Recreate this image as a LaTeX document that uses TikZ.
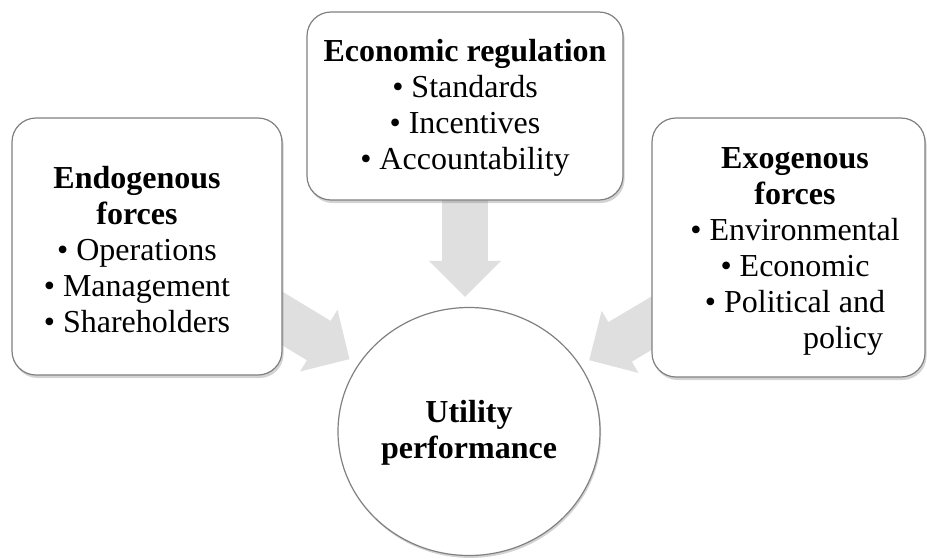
\documentclass[tikz,border=0pt]{standalone}
\usepackage{fontspec}
\setmainfont{Liberation Serif}
\usetikzlibrary{shapes.geometric,shadows,backgrounds,arrows.meta}

\begin{document}
\begin{tikzpicture}[x=0.5pt,y=-0.5pt,
  box/.style={draw=gray, line width=0.6pt, fill=white, rounded corners=12pt,
    drop shadow={shadow xshift=0.8pt,shadow yshift=-1.5pt,opacity=0.35}},
  disc/.style={ellipse, draw=gray, line width=0.6pt, fill=white,
    drop shadow={shadow xshift=0.6pt,shadow yshift=-1.2pt,opacity=0.35}},
  txt/.style={align=center, font=\fontsize{16}{18}\selectfont},
  flow/.style={draw=gray!25, line width=23pt, -{Triangle[length=18pt,width=35pt]}, shorten >=5pt}]
% Frame
\useasboundingbox (0,0) rectangle (927,558);

% Boxes
\node[box, minimum width=135pt, minimum height=128.5pt] (endo) at (147,246.5) {};
\node[box, minimum width=158pt, minimum height=94pt] (econ) at (465,106) {};
\node[box, minimum width=136.5pt, minimum height=129.5pt] (exo) at (788.5,247.5) {};

% Circle
\node[disc, minimum width=131pt, minimum height=124pt] (util) at (469,431.5) {};

% Block arrows (behind)
\begin{scope}[on background layer]
\draw[flow] ([yshift=5pt]econ.south) -- (econ.south |- util.north);
\draw[flow] ([xshift=-15pt,yshift=-27pt]endo.east) -- (util);
\draw[flow] ([xshift=15pt,yshift=-29pt]exo.west) -- (util);
\end{scope}

% Texts
\node[txt] (endotxt) at (137,250) {\textbf{Endogenous}\\\textbf{forces}\\\textbullet\ Operations\\\textbullet\ Management\\\textbullet\ Shareholders};
\node[txt] (econtxt) at (465,108) {\textbf{Economic regulation}\\\textbullet\ Standards\\\textbullet\ Incentives\\\textbullet\ Accountability};
\node[txt] (exotxt) at (795,251) {\textbf{Exogenous}\\\textbf{forces}\\\textbullet\ Environmental\\\textbullet\ Economic\\\textbullet\ Political and\\\hspace*{3em}policy};
\node[txt] (utiltxt) at (469,433) {\textbf{Utility}\\\textbf{performance}};
\end{tikzpicture}
\end{document}
